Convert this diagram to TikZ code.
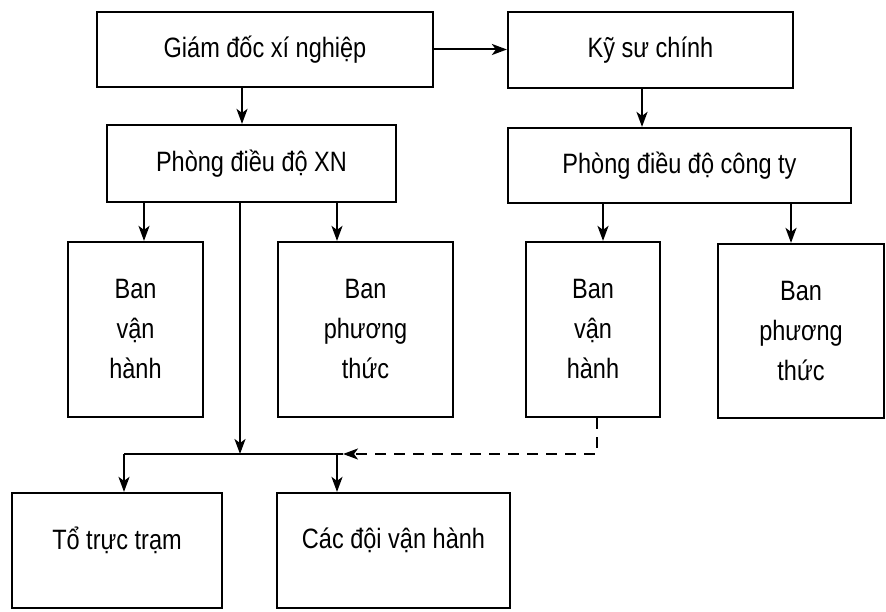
\documentclass[tikz,border=0pt]{standalone}
\usepackage{fontspec}
\setmainfont{Liberation Sans}[FakeStretch=0.84]
\usetikzlibrary{arrows.meta}
\begin{document}
\begin{tikzpicture}[x=1pt,y=-1pt,
  box/.style={draw, line width=2.2pt, inner sep=0pt, align=center,
    font=\fontsize{28}{40}\selectfont},
  lbl/.style={inner sep=0pt, font=\fontsize{28}{40}\selectfont},
  ln/.style={line width=2pt},
  arr/.style={line width=2pt, -{Stealth[length=15pt,width=11pt,inset=4pt]}},
  dsh/.style={arr, dash pattern=on 11pt off 8pt}]
\useasboundingbox (0,0) rectangle (886,612);
% boxes
\node[box, minimum width=336pt, minimum height=75pt] (gd) at (265,49.5) {Giám đốc xí nghiệp};
\node[box, minimum width=285pt, minimum height=76pt] (ks) at (650.5,50) {Kỹ sư chính};
\node[box, minimum width=289pt, minimum height=77pt] (pxn) at (251.5,163.5) {Phòng điều độ XN};
\node[box, minimum width=343pt, minimum height=75pt] (pct) at (679.5,165.5) {Phòng điều độ công ty};
\node[box, minimum width=135pt, minimum height=175pt] (bvh1) at (135.5,329.5) {Ban\\vận\\hành};
\node[box, minimum width=175pt, minimum height=175pt] (bpt1) at (365.5,329.5) {Ban\\phương\\thức};
\node[box, minimum width=134pt, minimum height=175pt] (bvh2) at (593,329.5) {Ban\\vận\\hành};
\node[box, minimum width=166pt, minimum height=174pt] (bpt2) at (801,331) {Ban\\phương\\thức};
\node[box, minimum width=210pt, minimum height=115pt] (tt) at (117,550.5) {};
\node[lbl] (ttl) at ([yshift=10pt]tt.center) {Tổ trực trạm};
\node[box, minimum width=233pt, minimum height=115pt] (cd) at (393.5,550.5) {};
\node[lbl] (cdl) at ([yshift=10pt]cd.center) {Các đội vận hành};
% reference columns
\coordinate (c242) at (242,0);
\coordinate (c642) at (642,0);
\coordinate (c144) at (144,0);
\coordinate (c337) at (337,0);
\coordinate (c240) at (240,0);
\coordinate (c603) at (603,0);
\coordinate (c791) at (791,0);
\coordinate (c597) at (597,0);
\coordinate (hl) at (124,454);
\coordinate (hr) at (343,454);
% connectors
\draw[arr] (gd.east) -- (gd.east -| ks.west);
\draw[arr] (c242 |- gd.south) -- (c242 |- pxn.north);
\draw[arr] (c642 |- ks.south) -- (c642 |- pct.north);
\draw[arr] (c144 |- pxn.south) -- (c144 |- bvh1.north);
\draw[arr] (c337 |- pxn.south) -- (c337 |- bpt1.north);
\draw[arr] (c603 |- pct.south) -- (c603 |- bvh2.north);
\draw[arr] (c791 |- pct.south) -- (c791 |- bpt2.north);
\draw[arr] (c240 |- pxn.south) -- (c240 |- hl);
\draw[ln] (hl) -- (hr);
\draw[arr] (hl) -- (hl |- tt.north);
\draw[arr] (c337 |- hl) -- (c337 |- cd.north);
\draw[dsh] (c597 |- bvh2.south) -- (c597 |- hr) -- (hr);
\end{tikzpicture}
\end{document}
